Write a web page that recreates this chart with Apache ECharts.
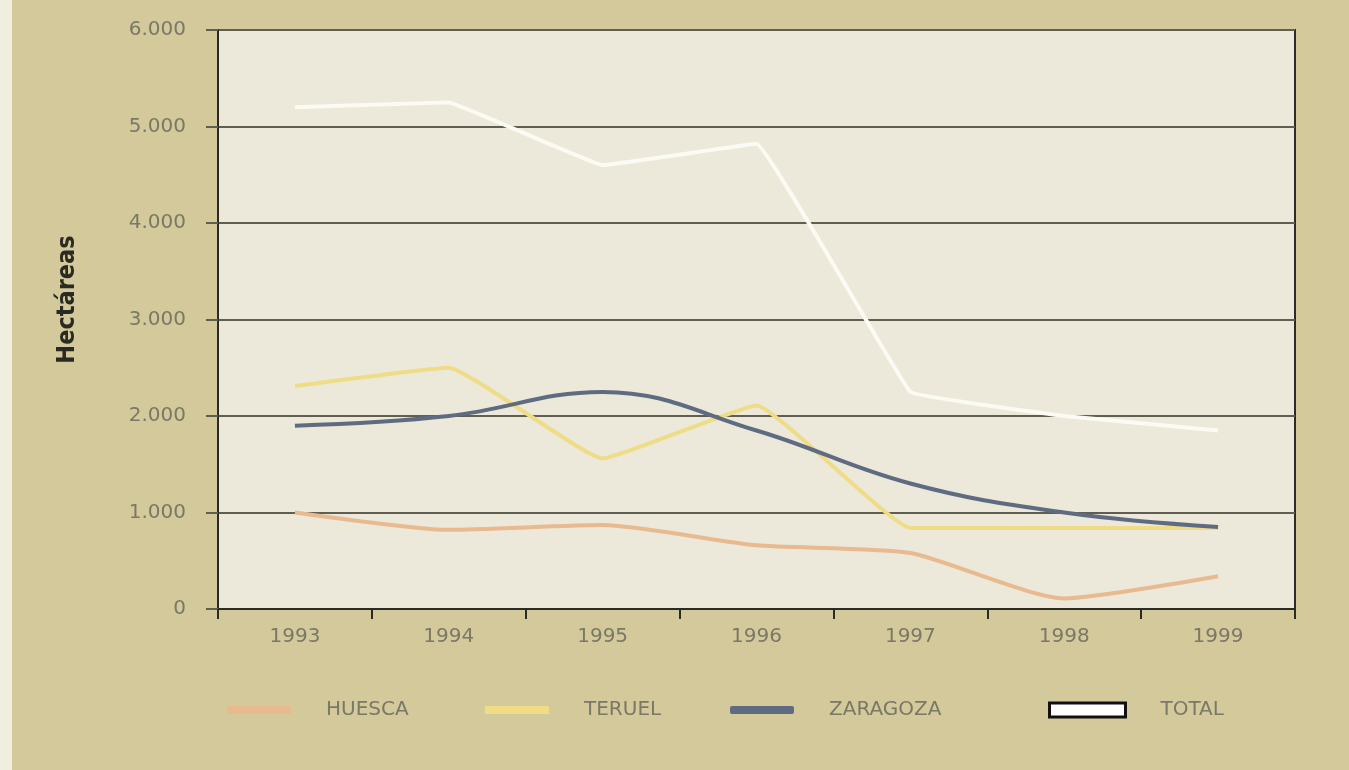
<!DOCTYPE html>
<html>
<head>
<meta charset="utf-8">
<script src="https://cdn.jsdelivr.net/npm/echarts@6/dist/echarts.min.js"></script>
<style>
  html, body { margin: 0; padding: 0; background: #d3c99b; }
  #chart { width: 1349px; height: 770px; }
</style>
</head>
<body>
<div id="chart"></div>
<script>
const years = ['1993', '1994', '1995', '1996', '1997', '1998', '1999'];
const huesca = [1000, 820, 870, 660, 580, 110, 340];
const teruel = [2310, 2500, 1560, 2110, 840, 840, 840];
const zaragoza = [1900, 2000, 2250, 1850, 1300, 1000, 850];
const total = [5200, 5250, 4600, 4820, 2250, 2000, 1850];
const yTicks = [0, 1000, 2000, 3000, 4000, 5000, 6000];

const chart = echarts.init(document.getElementById('chart'));

const labelFont = {
  color: '#7a7866',
  fontFamily: 'DejaVu Sans',
  fontSize: 20
};

function fmt(v) {
  return v >= 1000 ? Math.floor(v / 1000) + '.' + String(v % 1000).padStart(3, '0') : String(v);
}

function lineSeries(name, data, color, smooth) {
  return {
    name: name,
    type: 'line',
    data: data,
    smooth: smooth,
    symbol: 'none',
    lineStyle: { color: color, width: 4 },
    itemStyle: { color: color },
    z: 3
  };
}

// one legend per entry so the items sit where they do in the original
function legendItem(left, item, h) {
  return {
    left: left,
    top: 695,
    itemWidth: item.name === 'TOTAL' ? 76 : 64,
    itemHeight: h,
    textStyle: Object.assign({ padding: [0, 0, 0, 30] }, labelFont),
    data: [item]
  };
}

chart.setOption({
  backgroundColor: '#d3c99b',
  animation: false,
  graphic: [
    { type: 'rect', shape: { x: 0, y: 0, width: 12, height: 770 }, style: { fill: '#f0eedc' } }
  ],
  grid: {
    left: 218,
    right: 54,
    top: 30,
    bottom: 161,
    show: true,
    backgroundColor: '#ece9da',
    borderColor: '#2b2b25',
    borderWidth: 2
  },
  legend: [
    legendItem(222, { name: 'HUESCA', icon: 'rect', itemStyle: { color: '#e9b98f' } }, 8),
    legendItem(480, { name: 'TERUEL', icon: 'rect', itemStyle: { color: '#efdc86' } }, 8),
    legendItem(725, { name: 'ZARAGOZA', icon: 'roundRect', itemStyle: { color: '#5f6b80' } }, 8),
    legendItem(1043, { name: 'TOTAL', icon: 'rect', itemStyle: { color: '#ffffff', borderColor: '#111', borderWidth: 3 } }, 14)
  ],
  xAxis: {
    type: 'category',
    data: years,
    boundaryGap: true,
    axisLine: { lineStyle: { color: '#2b2b25', width: 2 } },
    axisTick: { show: true, length: 10, lineStyle: { color: '#2b2b25', width: 2 } },
    axisLabel: Object.assign({ margin: 18 }, labelFont),
    splitLine: { show: false }
  },
  yAxis: {
    type: 'value',
    min: yTicks[0],
    max: yTicks[yTicks.length - 1],
    interval: 1000,
    name: 'Hectáreas',
    nameLocation: 'middle',
    nameGap: 138,
    nameTextStyle: {
      color: '#2a2a22',
      fontFamily: 'DejaVu Sans Condensed',
      fontSize: 25,
      fontWeight: 'bold',
      padding: [0, 0, 0, 40]
    },
    axisLine: { show: true, lineStyle: { color: '#2b2b25', width: 2 } },
    axisTick: { show: true, length: 12, lineStyle: { color: '#5f5e50', width: 2 } },
    axisLabel: Object.assign({ margin: 32, formatter: fmt }, labelFont),
    splitLine: { show: true, lineStyle: { color: '#5f5e50', width: 2 } }
  },
  series: [
    lineSeries('HUESCA', huesca, '#e9b98f', 0.2),
    lineSeries('TERUEL', teruel, '#efdc86', 0.1),
    lineSeries('ZARAGOZA', zaragoza, '#5f6b80', 0.4),
    lineSeries('TOTAL', total, '#fbfbf4', 0.05)
  ]
});
</script>
</body>
</html>
